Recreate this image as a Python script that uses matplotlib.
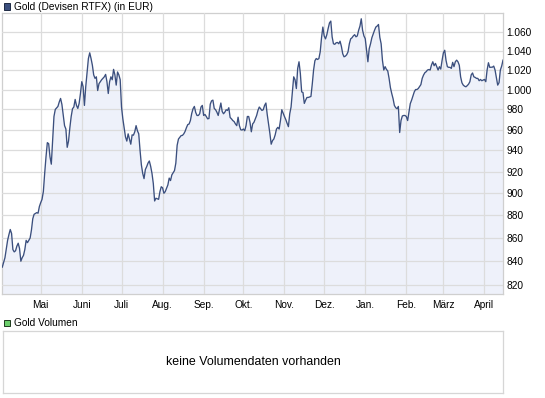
import pandas as pd
import matplotlib
matplotlib.use('Agg')
import matplotlib.pyplot as plt
from matplotlib.patches import Rectangle
from matplotlib.ticker import FixedLocator, FuncFormatter, NullLocator

plt.rcParams['font.family'] = ['Liberation Sans', 'DejaVu Sans']

# Gold in EUR (roughly one point per day)
dates = [
    # April 2010
    '2010-04-02', '2010-04-04', '2010-04-06', '2010-04-07', '2010-04-08', '2010-04-09', '2010-04-10',
    '2010-04-11', '2010-04-12', '2010-04-13', '2010-04-14', '2010-04-15', '2010-04-16', '2010-04-17',
    '2010-04-18', '2010-04-19', '2010-04-20', '2010-04-21', '2010-04-22', '2010-04-23', '2010-04-24',
    '2010-04-25', '2010-04-26', '2010-04-28', '2010-04-29', '2010-04-30',
    # May
    '2010-05-01', '2010-05-02', '2010-05-03', '2010-05-04', '2010-05-05', '2010-05-06', '2010-05-07',
    '2010-05-08', '2010-05-09', '2010-05-10', '2010-05-11', '2010-05-12', '2010-05-14', '2010-05-15',
    '2010-05-16', '2010-05-17', '2010-05-18', '2010-05-19', '2010-05-20', '2010-05-21', '2010-05-22',
    '2010-05-23', '2010-05-24', '2010-05-25', '2010-05-26', '2010-05-27', '2010-05-28', '2010-05-29',
    '2010-05-30', '2010-05-31',
    # June
    '2010-06-01', '2010-06-02', '2010-06-03', '2010-06-04', '2010-06-05', '2010-06-06', '2010-06-07',
    '2010-06-08', '2010-06-09', '2010-06-10', '2010-06-11', '2010-06-12', '2010-06-13', '2010-06-14',
    '2010-06-15', '2010-06-16', '2010-06-18', '2010-06-19', '2010-06-20', '2010-06-21', '2010-06-22',
    '2010-06-23', '2010-06-24', '2010-06-25', '2010-06-26', '2010-06-27', '2010-06-28', '2010-06-29',
    '2010-06-30',
    # July
    '2010-07-01', '2010-07-02', '2010-07-03', '2010-07-04', '2010-07-05', '2010-07-06', '2010-07-07',
    '2010-07-08', '2010-07-09', '2010-07-10', '2010-07-11', '2010-07-12', '2010-07-13', '2010-07-14',
    '2010-07-15', '2010-07-16', '2010-07-17', '2010-07-18', '2010-07-19', '2010-07-20', '2010-07-21',
    '2010-07-22', '2010-07-23', '2010-07-24', '2010-07-25', '2010-07-26', '2010-07-27', '2010-07-28',
    '2010-07-29', '2010-07-30', '2010-07-31',
    # August
    '2010-08-01', '2010-08-02', '2010-08-03', '2010-08-04', '2010-08-05', '2010-08-06', '2010-08-07',
    '2010-08-08', '2010-08-09', '2010-08-10', '2010-08-11', '2010-08-12', '2010-08-13', '2010-08-14',
    '2010-08-15', '2010-08-16', '2010-08-17', '2010-08-18', '2010-08-19', '2010-08-20', '2010-08-21',
    '2010-08-22', '2010-08-23', '2010-08-24', '2010-08-25', '2010-08-26', '2010-08-27', '2010-08-28',
    '2010-08-29', '2010-08-30', '2010-08-31',
    # September
    '2010-09-01', '2010-09-02', '2010-09-03', '2010-09-04', '2010-09-05', '2010-09-06', '2010-09-07',
    '2010-09-08', '2010-09-09', '2010-09-10', '2010-09-11', '2010-09-12', '2010-09-13', '2010-09-14',
    '2010-09-15', '2010-09-16', '2010-09-17', '2010-09-18', '2010-09-19', '2010-09-20', '2010-09-21',
    '2010-09-22', '2010-09-23', '2010-09-24', '2010-09-25', '2010-09-26', '2010-09-27', '2010-09-28',
    '2010-09-29', '2010-09-30',
    # October
    '2010-10-01', '2010-10-02', '2010-10-03', '2010-10-04', '2010-10-05', '2010-10-06', '2010-10-07',
    '2010-10-08', '2010-10-09', '2010-10-10', '2010-10-11', '2010-10-12', '2010-10-13', '2010-10-14',
    '2010-10-15', '2010-10-16', '2010-10-17', '2010-10-18', '2010-10-19', '2010-10-20', '2010-10-21',
    '2010-10-22', '2010-10-23', '2010-10-24', '2010-10-25', '2010-10-26', '2010-10-27', '2010-10-28',
    '2010-10-29', '2010-10-30', '2010-10-31',
    # November
    '2010-11-01', '2010-11-02', '2010-11-03', '2010-11-04', '2010-11-05', '2010-11-06', '2010-11-07',
    '2010-11-08', '2010-11-09', '2010-11-10', '2010-11-11', '2010-11-12', '2010-11-13', '2010-11-14',
    '2010-11-15', '2010-11-16', '2010-11-17', '2010-11-18', '2010-11-19', '2010-11-21', '2010-11-22',
    '2010-11-23', '2010-11-24', '2010-11-25', '2010-11-26', '2010-11-27', '2010-11-28', '2010-11-29',
    '2010-11-30',
    # December
    '2010-12-01', '2010-12-02', '2010-12-03', '2010-12-04', '2010-12-05', '2010-12-06', '2010-12-07',
    '2010-12-08', '2010-12-09', '2010-12-10', '2010-12-11', '2010-12-12', '2010-12-13', '2010-12-14',
    '2010-12-15', '2010-12-16', '2010-12-17', '2010-12-18', '2010-12-19', '2010-12-20', '2010-12-21',
    '2010-12-22', '2010-12-23', '2010-12-24', '2010-12-25', '2010-12-26', '2010-12-27', '2010-12-28',
    '2010-12-29', '2010-12-30', '2010-12-31',
    # January 2011
    '2011-01-01', '2011-01-02', '2011-01-03', '2011-01-04', '2011-01-05', '2011-01-06', '2011-01-07',
    '2011-01-08', '2011-01-09', '2011-01-10', '2011-01-11', '2011-01-12', '2011-01-13', '2011-01-14',
    '2011-01-15', '2011-01-16', '2011-01-17', '2011-01-18', '2011-01-19', '2011-01-20', '2011-01-21',
    '2011-01-22', '2011-01-23', '2011-01-24', '2011-01-25', '2011-01-26', '2011-01-27', '2011-01-28',
    '2011-01-29', '2011-01-30', '2011-01-31',
    # February
    '2011-02-01', '2011-02-02', '2011-02-03', '2011-02-04', '2011-02-05', '2011-02-06', '2011-02-07',
    '2011-02-08', '2011-02-09', '2011-02-10', '2011-02-12', '2011-02-13', '2011-02-14', '2011-02-15',
    '2011-02-16', '2011-02-17', '2011-02-18', '2011-02-19', '2011-02-20', '2011-02-21', '2011-02-22',
    '2011-02-23', '2011-02-24', '2011-02-25', '2011-02-26', '2011-02-27', '2011-02-28',
    # March
    '2011-03-01', '2011-03-02', '2011-03-03', '2011-03-04', '2011-03-05', '2011-03-06', '2011-03-07',
    '2011-03-08', '2011-03-09', '2011-03-10', '2011-03-11', '2011-03-12', '2011-03-13', '2011-03-14',
    '2011-03-15', '2011-03-16', '2011-03-17', '2011-03-18', '2011-03-19', '2011-03-20', '2011-03-21',
    '2011-03-22', '2011-03-23', '2011-03-24', '2011-03-25', '2011-03-26', '2011-03-27', '2011-03-28',
    '2011-03-29', '2011-03-30', '2011-03-31',
    # April 2011
    '2011-04-01', '2011-04-02', '2011-04-03', '2011-04-04', '2011-04-05', '2011-04-07', '2011-04-08',
    '2011-04-09', '2011-04-10', '2011-04-11', '2011-04-12', '2011-04-13', '2011-04-14', '2011-04-15',
]

price = [
    # April 2010
    835, 843, 858, 863, 867.5, 864, 850, 848, 849, 853, 855.5, 851, 840, 843,
    845, 850, 858, 856, 858, 860, 867, 877, 881, 882.5, 882, 888,
    # May
    891.5, 894.5, 901.6, 918.5, 934, 947.5, 946.5, 934, 927, 950, 973, 980, 983, 987.5,
    991, 985, 974, 964, 960.7, 943, 949, 962, 973, 980.7, 982.4, 990, 984, 981,
    986, 996,
    # June
    1008, 1003, 984, 1003, 1017, 1032, 1038, 1032, 1025, 1015, 1011.4, 1013, 999, 1006,
    1008, 1010, 1013, 1015.5, 1008, 996, 1008, 1013, 1010, 1020.7, 1015, 1004.5, 1018, 1015,
    1010,
    # July
    982.4, 970.7, 962, 953, 949, 956, 951, 946, 955, 954.7, 958, 964, 959, 956,
    940, 926.3, 918.4, 913.5, 922, 924.7, 928, 930, 925, 918.4, 909, 893, 895.5, 895,
    894.5, 901.5, 906,
    # August
    905, 900, 901.5, 904.6, 907.7, 914, 911.7, 917, 919, 921, 928, 945, 951, 952.6,
    954.3, 954.5, 956, 958.4, 962, 965, 965.6, 969, 976, 980.7, 983, 977, 974, 974,
    975.7, 982.4, 984,
    # September
    974, 975, 973, 970.7, 971, 985.3, 988.6, 989.3, 981, 979.7, 977.3, 974, 980, 986.4,
    978, 975.7, 977.3, 979.7, 979, 981.7, 972, 970.7, 969, 968, 965.7, 964, 972.3, 964,
    960, 959.7,
    # October
    960.7, 959, 964, 973, 973, 967.3, 958, 965.7, 967.3, 970.7, 974, 979, 982.4, 980.7,
    979, 979.7, 984, 986.4, 975, 966, 956.5, 946, 949.5, 951, 955, 960.7, 962.3, 960.7,
    969, 979.7, 976.3,
    # November
    973, 970, 966.3, 963, 975.7, 982.4, 997, 1013, 1010, 1001, 1021.7, 1028.6, 1016.6, 997.6,
    997, 986, 989.3, 992, 992, 993, 1005.5, 1020, 1029.7, 1032, 1031, 1032, 1039, 1054,
    1065.5,
    # December
    1056, 1052.8, 1057.3, 1064, 1070, 1072, 1055, 1047.6, 1047, 1048.6, 1049, 1047.6, 1050.3, 1044.8,
    1037, 1033.8, 1034.5, 1036, 1039, 1047.6, 1052.8, 1054, 1056, 1057.3, 1055, 1056, 1062, 1066.5,
    1074.5, 1062, 1056,
    # January 2011
    1053, 1040.7, 1028.6, 1042.4, 1047.6, 1054, 1058, 1062, 1065.5, 1066.6, 1068.3, 1054.5, 1047.6, 1030,
    1020, 1023.5, 1020.7, 1019, 1011.4, 1002, 996, 990.8, 984, 981.7, 980.7, 983, 957.3, 969,
    973.5, 974, 974,
    # February
    973, 969, 977.3, 985.8, 989.3, 993.3, 997.6, 1000, 1000, 1001, 1005, 1011.4, 1014.8, 1017.2,
    1018.3, 1020, 1020.5, 1020, 1025.2, 1028.6, 1024.5, 1026.9, 1023.5, 1020, 1023.5, 1021, 1030,
    # March
    1038, 1040.7, 1030, 1023.5, 1022.8, 1022.8, 1021.7, 1028, 1023.5, 1028.6, 1030.3, 1028.6, 1025, 1013,
    1006.9, 1004.5, 1003.4, 1002.8, 1004, 1005.5, 1008, 1015, 1017, 1013, 1012.4, 1011.4, 1011.4, 1009,
    1010.3, 1009, 1009.7,
    # April 2011
    1010.3, 1008, 1020, 1027.6, 1022.8, 1023, 1024.1, 1020, 1012, 1004.5, 1007, 1020, 1024.1, 1030.3,
]

month_starts = ['2010-05-01', '2010-06-01', '2010-07-01', '2010-08-01', '2010-09-01', '2010-10-01',
                '2010-11-01', '2010-12-01', '2011-01-01', '2011-02-01', '2011-03-01', '2011-04-01']
month_labels = ['Mai', 'Juni', 'Juli', 'Aug.', 'Sep.', 'Okt.', 'Nov.', 'Dez.', 'Jan.', 'Feb.', 'März', 'April']
price_ticks = [820, 840, 860, 880, 900, 920, 940, 960, 980, 1000, 1020, 1040, 1060]

dates = pd.to_datetime(dates)
W, H = 545, 398

fig = plt.figure(figsize=(W / 100, H / 100), dpi=100)
fig.patch.set_facecolor('white')

line_col = '#3b4f7e'
grid_col = '#dcdcdc'
frame_col = '#cfcfcf'
fs = 7.3

# main price panel
ax = fig.add_axes([2.3 / W, 1 - 294 / H, (503 - 2.3) / W, (294 - 13.3) / H])
ax.fill_between(dates, price, 700, color='#eef1fa', lw=0, zorder=1)
ax.plot(dates, price, color=line_col, lw=0.95, zorder=3)

ax.set_yscale('log')
ax.set_ylim(812.5, 1080.5)
ax.set_xlim(dates[0], dates[-1])
ax.yaxis.set_major_locator(FixedLocator(price_ticks))
ax.yaxis.set_minor_locator(NullLocator())
ax.yaxis.set_major_formatter(FuncFormatter(lambda v, p: f'{int(round(v)):,}'.replace(',', '.')))
ax.yaxis.tick_right()

ax.set_xticks(pd.to_datetime(month_starts))
ax.set_xticklabels(month_labels)
ax.xaxis.set_minor_locator(NullLocator())

ax.tick_params(axis='y', length=0, pad=2.6, labelsize=fs, colors='black')
ax.tick_params(axis='x', length=0, pad=4.0, labelsize=fs, colors='black')
ax.grid(True, color=grid_col, lw=0.9)
ax.set_axisbelow(False)
for s in ax.spines.values():
    s.set_color(frame_col)
    s.set_linewidth(0.9)

# legend entries above each panel
fig.add_artist(Rectangle((3.5 / W, 1 - 10 / H), 6.5 / W, 6.5 / H, transform=fig.transFigure,
                         facecolor=line_col, edgecolor='#1e2a44', lw=0.7))
fig.text(14.5 / W, 1 - 6.6 / H, 'Gold (Devisen RTFX) (in EUR)', fontsize=fs, va='center', ha='left')

fig.add_artist(Rectangle((3.5 / W, 1 - 326 / H), 6.5 / W, 6.5 / H, transform=fig.transFigure,
                         facecolor='#6ccf6c', edgecolor='#1e3a1e', lw=0.7))
fig.text(14.5 / W, 1 - 322.6 / H, 'Gold Volumen', fontsize=fs, va='center', ha='left')

# empty volume panel
ax2 = fig.add_axes([2.8 / W, 1 - 393.3 / H, (503 - 2.8) / W, (393.3 - 331) / H])
ax2.set_xticks([])
ax2.set_yticks([])
for s in ax2.spines.values():
    s.set_color('#d6d6d6')
    s.set_linewidth(0.9)
ax2.text(0.5, 0.5, 'keine Volumendaten vorhanden', transform=ax2.transAxes,
         ha='center', va='center', fontsize=8.9)

fig.savefig('out.png', dpi=100)
